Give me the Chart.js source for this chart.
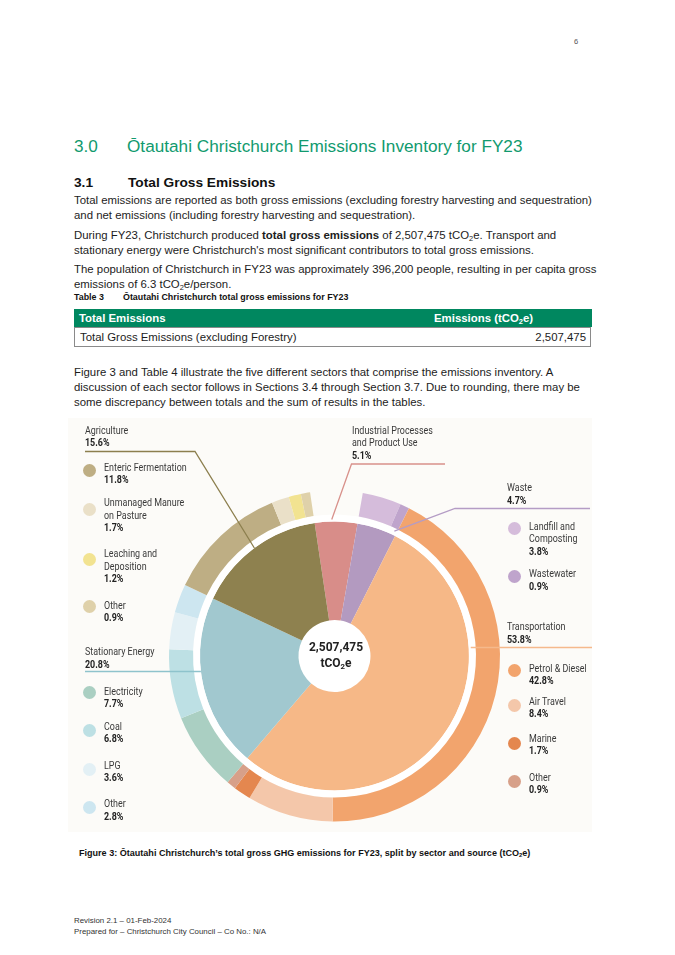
<!DOCTYPE html>
<html>
<head>
<meta charset="utf-8">
<script src="https://cdn.jsdelivr.net/npm/chart.js@4.4.1/dist/chart.umd.min.js"></script>
<style>
  html, body { margin: 0; padding: 0; background: #ffffff; }
  body { width: 675px; height: 955px; position: relative; overflow: hidden;
         font-family: "Liberation Sans", Arial, sans-serif; color: #1c1c1c; }
  .abs { position: absolute; white-space: nowrap; }
  .p { font-size: 11.4px; line-height: 15px; }
  .h1 { font-size: 17.2px; line-height: 20px; color: #119a6e; }
  .h2 { font-size: 13.7px; line-height: 16px; font-weight: bold; color: #111; }
  .cap { font-size: 8.9px; line-height: 10px; font-weight: bold; color: #111; }
  .tbl { left: 74px; top: 309px; width: 518px; }
  .th { position: absolute; top: 0; height: 18px; background: #00875f; color: #fff; font-weight: bold;
        font-size: 11.4px; line-height: 18px; }
  .td { position: absolute; top: 18px; height: 18px; border: 1px solid #8a8a8a; font-size: 11.4px;
        line-height: 18px; background: #fff; }
  sub { font-size: 0.65em; vertical-align: -0.25em; line-height: 0; }
  #panel { position: absolute; left: 68px; top: 418px; width: 524px; height: 414px; background: #fcfbf8; }
  #chart { position: absolute; left: 0; top: 0; }
  .lbl { position: absolute; white-space: nowrap; font-family: Roboto, "DejaVu Sans", sans-serif;
         font-size: 10.5px; line-height: 12.6px; color: #3a3a3a; transform: scaleX(0.85);
         transform-origin: 0 0; }
  .lbl b { color: #222; }
  .dot { position: absolute; width: 13px; height: 13px; border-radius: 50%; }
  .ctr { position: absolute; font-family: Roboto, "DejaVu Sans", sans-serif; font-weight: bold;
         color: #222; text-align: center; width: 80px; white-space: nowrap; }
</style>
</head>
<body>

<div class="abs" style="left:574px;top:37px;font-size:7.5px;color:#555;">6</div>

<div class="abs h1" style="left:74px;top:136px;">3.0</div>
<div class="abs h1" style="left:127px;top:136px;">Ōtautahi Christchurch Emissions Inventory for FY23</div>

<div class="abs h2" style="left:74px;top:175px;">3.1</div>
<div class="abs h2" style="left:128px;top:175px;">Total Gross Emissions</div>

<div class="abs p" style="left:74px;top:193px;">Total emissions are reported as both gross emissions (excluding forestry harvesting and sequestration)<br>and net emissions (including forestry harvesting and sequestration).</div>
<div class="abs p" style="left:74px;top:228px;">During FY23, Christchurch produced <b>total gross emissions</b> of 2,507,475 tCO<sub>2</sub>e. Transport and<br>stationary energy were Christchurch's most significant contributors to total gross emissions.</div>
<div class="abs p" style="left:74px;top:262px;">The population of Christchurch in FY23 was approximately 396,200 people, resulting in per capita gross<br>emissions of 6.3 tCO<sub>2</sub>e/person.</div>

<div class="abs cap" style="left:74px;top:292px;">Table 3</div>
<div class="abs cap" style="left:123px;top:292px;">Ōtautahi Christchurch total gross emissions for FY23</div>

<div class="abs tbl">
  <div class="th" style="left:0;width:353px;padding-left:5px;">Total Emissions</div>
  <div class="th" style="left:355px;width:158px;padding-left:5px;">Emissions (tCO<sub>2</sub>e)</div>
  <div class="td" style="left:0;width:348px;padding-left:5px;">Total Gross Emissions (excluding Forestry)</div>
  <div class="td" style="left:354px;width:158px;padding-right:4px;text-align:right;border-left:none;">2,507,475</div>
</div>

<div class="abs p" style="left:74px;top:365px;">Figure 3 and Table 4 illustrate the five different sectors that comprise the emissions inventory. A<br>discussion of each sector follows in Sections 3.4 through Section 3.7. Due to rounding, there may be<br>some discrepancy between totals and the sum of results in the tables.</div>

<div id="panel">
  <canvas id="chart" width="524" height="414"></canvas>
</div>
<div id="labels"></div>

<div class="abs cap" style="left:79px;top:848px;font-size:9.05px;">Figure 3: Ōtautahi Christchurch’s total gross GHG emissions for FY23, split by sector and source (tCO<sub>2</sub>e)</div>

<div class="abs" style="left:74px;top:915px;font-size:7.9px;line-height:11px;color:#333;">Revision 2.1 – 01-Feb-2024<br>Prepared for – Christchurch City Council – Co No.: N/A</div>

<script>
// ---------------- DATA ----------------
const sectors = ['Industrial Processes\nand Product Use', 'Waste', 'Transportation', 'Stationary Energy', 'Agriculture'];
const sectorValues = [5.1, 4.7, 53.8, 20.8, 15.6];
const sectorColors = ['#d88d89', '#b39ac0', '#f6b887', '#a1c8cf', '#8e814f'];
const sectorLineColors = ['#d8918b', '#b49cc5', '#f5b98c', '#8ec3cc', '#8c7f4e'];

const sources = ['Landfill and\nComposting', 'Wastewater',
                 'Petrol & Diesel', 'Air Travel', 'Marine', 'Other',
                 'Electricity', 'Coal', 'LPG', 'Other',
                 'Enteric Fermentation', 'Unmanaged Manure\non Pasture', 'Leaching and\nDeposition', 'Other'];
const sourceValues = [3.8, 0.9,
                      42.8, 8.4, 1.7, 0.9,
                      7.7, 6.8, 3.6, 2.8,
                      11.8, 1.7, 1.2, 0.9];
const sourceColors = ['#d5bcdb', '#bfa4cc',
                      '#f2a46d', '#f4c7aa', '#e4874f', '#d7a089',
                      '#aacfc2', '#bde0e4', '#e3f0f5', '#cde6f0',
                      '#beae84', '#eae0c8', '#f2e391', '#dfd1aa'];
const totalEmissions = '2,507,475';

// ---------------- LAYOUT (page coordinates) ----------------
const PANEL_X = 68, PANEL_Y = 418;
// sector title: [left, first line centre]
const sectorLabelPos = [[351.5, 430.7], [506.5, 488.3], [506.5, 627.3], [85, 652.3], [85, 430.7]];
// source legend: [text left, first line centre, dot centre y]
const sourceLabelPos = [
  [528.5, 526.7, 528.3], [528.5, 574.3, 576],
  [528.5, 669, 670.7], [528.5, 701.7, 705], [528.5, 739, 743.3], [528.5, 777.7, 781.7],
  [104.3, 691.7, 692.7], [104.3, 726.7, 730.7], [104.3, 765.7, 769.3], [104.3, 804.3, 807.3],
  [104.3, 467.7, 470], [104.3, 503.3, 509], [104.3, 554.3, 559], [104.3, 606, 606.7]
];
// leader lines: sector index, label-side points, how the line meets the pie
const leaders = [
  {i: 4, pts: [[85, 451.5], [195, 451.5]], frac: 0.5, rpad: 0},
  {i: 0, pts: [[445, 464], [351.5, 464]], frac: 0.4, rpad: 2},
  {i: 1, pts: [[590, 508.5], [455, 508.5]], frac: 0.93, rpad: 4},
  {i: 2, pts: [[593, 647.5]], horizontal: 1, rpad: 2},
  {i: 3, pts: [[85, 671.5]], horizontal: -1, rpad: 0}
];

// ---------------- LABELS (HTML text) ----------------
const labelsDiv = document.getElementById('labels');
function addLabel(x, yc, html) {
  const d = document.createElement('div');
  d.className = 'lbl';
  d.style.left = x + 'px';
  d.style.top = (yc - 6.2) + 'px';
  d.innerHTML = html;
  labelsDiv.appendChild(d);
}
const fmt = v => v.toFixed(1) + '%';
sectors.forEach((s, k) => {
  const [x, y] = sectorLabelPos[k];
  addLabel(x, y, s.split('\n').join('<br>') + '<br><b>' + fmt(sectorValues[k]) + '</b>');
});
sources.forEach((s, k) => {
  const [x, y, dy] = sourceLabelPos[k];
  addLabel(x, y, s.split('\n').join('<br>') + '<br><b>' + fmt(sourceValues[k]) + '</b>');
  const dot = document.createElement('div');
  dot.className = 'dot';
  dot.style.background = sourceColors[k];
  dot.style.left = (x - 14.5 - 6.5) + 'px';
  dot.style.top = (dy - 6.5) + 'px';
  labelsDiv.appendChild(dot);
});

// ---------------- CHART ----------------
const outerValues = [sectorValues[0]].concat(sourceValues);   // first slice = gap above Industrial
const outerColors = ['rgba(0,0,0,0)'].concat(sourceColors);

const leaderPlugin = {
  id: 'leaders',
  beforeDatasetsDraw(chart) {
    const arc = chart.getDatasetMeta(2).data[0];
    const ctx = chart.ctx;
    ctx.save();
    ctx.fillStyle = '#ffffff';
    ctx.beginPath();
    ctx.arc(arc.x, arc.y, arc.innerRadius, 0, Math.PI * 2);
    ctx.fill();
    ctx.restore();
  },
  afterDatasetsDraw(chart) {
    const ctx = chart.ctx;
    const arcs = chart.getDatasetMeta(2).data;
    const cx = arcs[0].x, cy = arcs[0].y, R = arcs[0].outerRadius;
    ctx.save();
    ctx.lineWidth = 1.3;
    leaders.forEach(l => {
      const a = arcs[l.i];
      const pts = l.pts.map(p => [p[0] - PANEL_X, p[1] - PANEL_Y]);
      let end;
      const r = R + l.rpad;
      if (l.horizontal) {
        const dy = pts[0][1] - cy;
        end = [cx + l.horizontal * Math.sqrt(r * r - dy * dy), pts[0][1]];
      } else {
        const ang = a.startAngle + (a.endAngle - a.startAngle) * l.frac;
        end = [cx + Math.cos(ang) * r, cy + Math.sin(ang) * r];
      }
      ctx.strokeStyle = sectorLineColors[l.i];
      ctx.beginPath();
      ctx.moveTo(pts[0][0], pts[0][1]);
      for (let k = 1; k < pts.length; k++) ctx.lineTo(pts[k][0], pts[k][1]);
      ctx.lineTo(end[0], end[1]);
      ctx.stroke();
    });
    ctx.restore();
  }
};

new Chart(document.getElementById('chart'), {
  type: 'doughnut',
  data: {
    labels: ['Industrial Processes and Product Use'].concat(sources),
    datasets: [
      {label: 'Sources', data: outerValues, backgroundColor: outerColors, borderWidth: 0, weight: 24},
      {label: 'gap', data: [100], backgroundColor: '#ffffff', borderWidth: 0, weight: 7},
      {label: 'Sectors', data: sectorValues, backgroundColor: sectorColors, borderWidth: 0, weight: 98.5}
    ]
  },
  options: {
    responsive: false,
    animation: false,
    devicePixelRatio: 1,
    cutout: 36,
    rotation: -8.5,
    hoverOffset: 0,
    offset: 0,
    layout: {padding: {left: 101, right: 92, top: 72.5, bottom: 10.5}},
    plugins: {legend: {display: false}, tooltip: {enabled: false}},
    events: []
  },
  plugins: [leaderPlugin]
});
</script>

<div class="ctr" style="left:296px;top:640px;font-size:12px;line-height:15px;">2,507,475</div>
<div class="ctr" style="left:296px;top:656px;font-size:12px;line-height:15px;">tCO<sub>2</sub>e</div>

</body>
</html>
